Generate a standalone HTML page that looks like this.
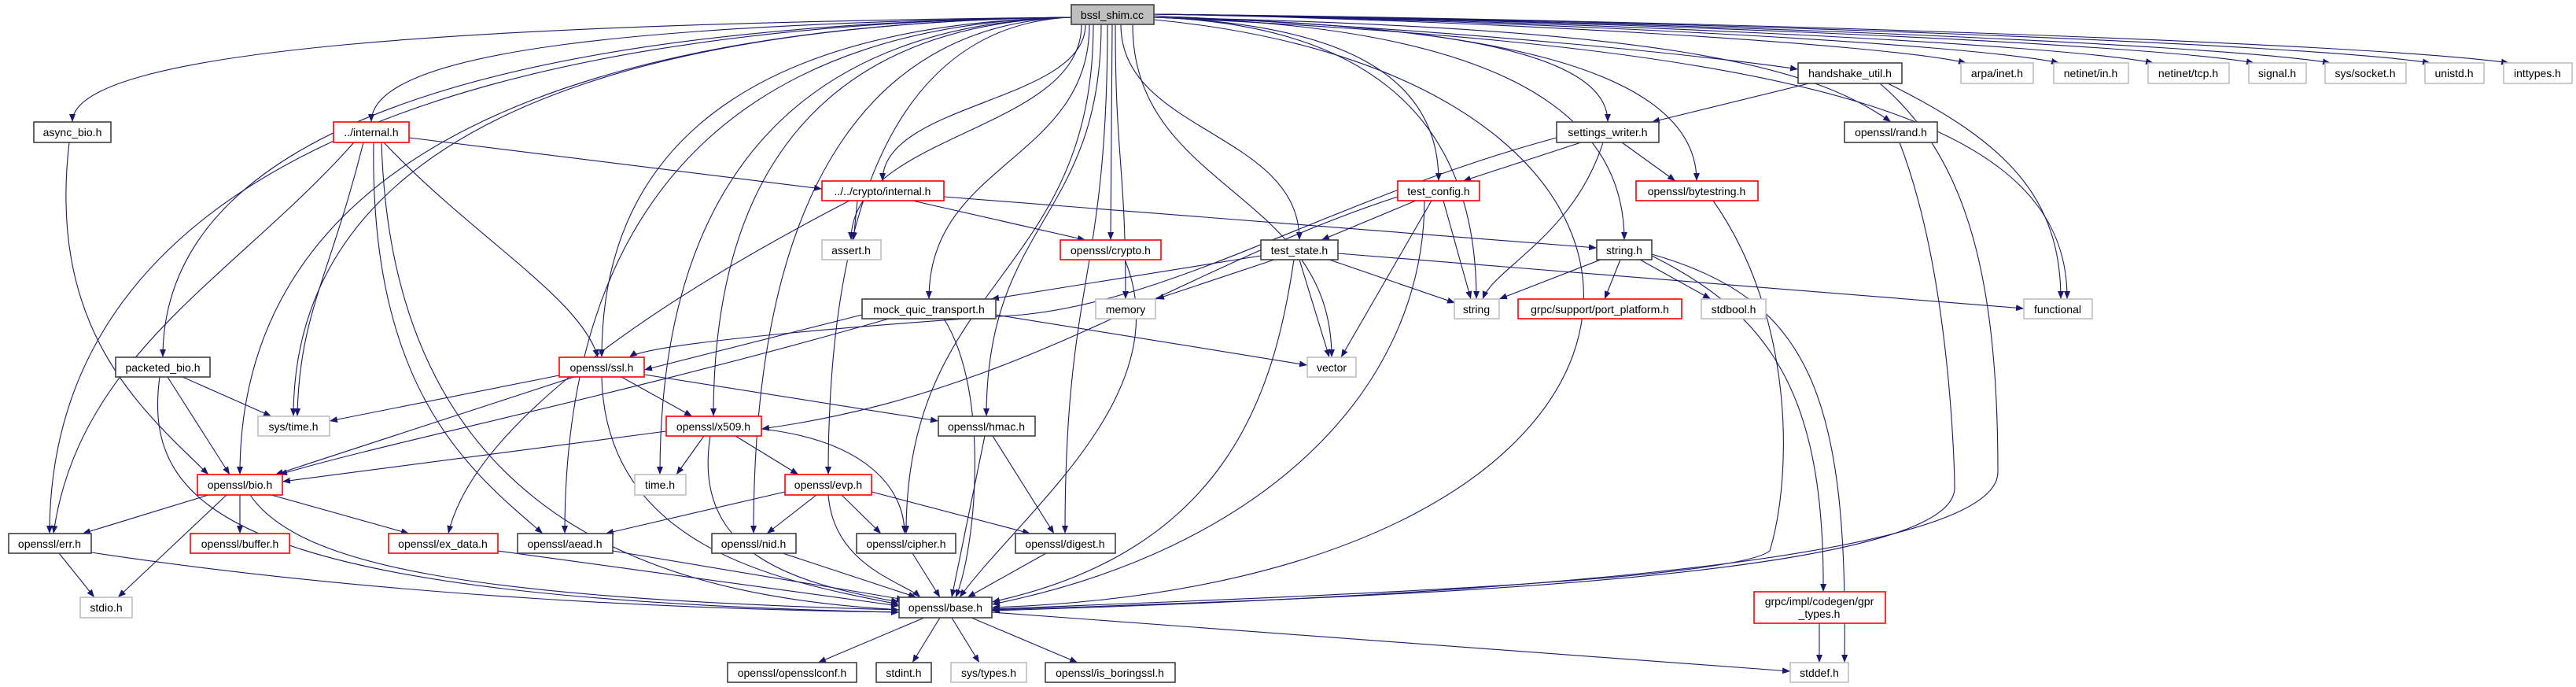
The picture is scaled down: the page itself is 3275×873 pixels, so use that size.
<!DOCTYPE html>
<html><head><meta charset="utf-8"><style>
html,body{margin:0;padding:0;background:#fff;}
svg{display:block;}
text{font-family:"Liberation Sans",Arial,sans-serif;font-size:14px;fill:#000;text-anchor:middle;}
.e{fill:none;stroke:#191970;stroke-width:1.1;marker-end:url(#a);}
.b{fill:#fff;stroke:#404040;stroke-width:1.6;}
.r{fill:#fff;stroke:#ff0000;stroke-width:1.6;}
.g{fill:#fff;stroke:#bfbfbf;stroke-width:1.6;}
</style></head><body>
<svg width="3275" height="873" viewBox="0 0 3275 873" xmlns="http://www.w3.org/2000/svg">
<defs><marker id="a" markerUnits="userSpaceOnUse" markerWidth="11" markerHeight="8" refX="10" refY="4" orient="auto"><path d="M0,0 L10,4 L0,8 z" fill="#191970"/></marker></defs>
<g>
<path class="e" d="M1362,22 C600,30 92,62 92,155"/>
<path class="e" d="M1362,22 C828,30 472,62 472,155"/>
<path class="e" d="M1362,22 C583,30 63,219 63,678"/>
<path class="e" d="M1362,22 C669,30 207,152 207,454"/>
<path class="e" d="M1362,22 C769,30 373,174 373,529"/>
<path class="e" d="M1362,22 C728,30 305,196 305,603"/>
<path class="e" d="M1362,22 C1004,30 765,152 765,454"/>
<path class="e" d="M1362,22 C976,30 718,219 718,678"/>
<path class="e" d="M1362,22 C1048,30 839,196 839,603"/>
<path class="e" d="M1362,22 C1089,30 907,174 907,529"/>
<path class="e" d="M1362,22 C1120,30 958,219 958,678"/>
<path class="e" d="M1362,22 C1177,30 1053,196 1053,603"/>
<path class="e" d="M1380,31 C1380,130 1122,130 1122,230"/>
<path class="e" d="M1375,31 C1375,168 1082,168 1082,305"/>
<path class="e" d="M1385,31 C1385,205 1181,205 1181,380"/>
<path class="e" d="M1390,31 C1390,354 1152,354 1152,678"/>
<path class="e" d="M1400,31 C1400,280 1254,280 1254,529"/>
<path class="e" d="M1414,31 L1412,305"/>
<path class="e" d="M1418,31 C1418,205 1431,205 1431,380"/>
<path class="e" d="M1408,31 C1408,354 1354,354 1354,678"/>
<path class="e" d="M1425,31 C1425,168 1652,168 1652,305"/>
<path class="e" d="M1440,31 C1440,242 1693,242 1693,454"/>
<path class="e" d="M1467,22 C1684,30 1829,84 1829,230"/>
<path class="e" d="M1467,22 C1813,30 2044,62 2044,155"/>
<path class="e" d="M1467,22 C1713,30 1877,129 1877,380"/>
<path class="e" d="M1467,22 C1826,30 2065,107 2065,305"/>
<path class="e" d="M1467,22 C1881,30 2157,84 2157,230"/>
<path class="e" d="M1467,20 C1900,40 2200,75 2286,88"/>
<path class="e" d="M1467,18 C1877,25 2390,55 2500,80"/>
<path class="e" d="M1467,18 C1927,25 2503,55 2618,80"/>
<path class="e" d="M1467,18 C1975,25 2611,55 2738,80"/>
<path class="e" d="M1467,18 C2026,25 2726,55 2866,80"/>
<path class="e" d="M1467,18 C2065,25 2813,55 2963,80"/>
<path class="e" d="M1467,18 C2116,25 2928,55 3090,80"/>
<path class="e" d="M1467,18 C2156,25 3018,55 3190,80"/>
<path class="e" d="M1467,22 C2100,35 2300,80 2404,155"/>
<path class="e" d="M1467,22 C2300,60 2630,150 2628,380"/>
<path class="e" d="M1467,25 C2250,100 2200,740 1261,772"/>
<path class="e" d="M88,181 C60,420 180,520 265,603"/>
<path class="e" d="M520,175 L1045,240"/>
<path class="e" d="M450,181 C300,350 100,450 68,678"/>
<path class="e" d="M462,181 C420,350 380,400 378,529"/>
<path class="e" d="M488,181 C600,300 740,380 760,454"/>
<path class="e" d="M475,181 C470,500 600,600 690,678"/>
<path class="e" d="M485,181 C500,700 900,760 1143,775"/>
<path class="e" d="M1090,255 L1085,305"/>
<path class="e" d="M1160,255 L1380,305"/>
<path class="e" d="M1200,250 L2030,315"/>
<path class="e" d="M1080,255 C800,400 600,550 570,678"/>
<path class="e" d="M1430,330 C1500,500 1300,650 1220,759"/>
<path class="e" d="M2010,181 L1860,230"/>
<path class="e" d="M2038,181 C2000,300 1900,340 1885,380"/>
<path class="e" d="M2062,181 L2130,230"/>
<path class="e" d="M1979,175 C1700,250 1500,380 1300,400 C1000,420 820,440 800,454"/>
<path class="e" d="M2300,106 L2100,155"/>
<path class="e" d="M2400,106 C2550,180 2620,250 2620,380"/>
<path class="e" d="M2390,106 C2500,200 2540,350 2540,600 C2540,720 1800,760 1261,776"/>
<path class="e" d="M2415,181 C2480,350 2485,600 2485,620 C2485,740 1700,760 1261,775"/>
<path class="e" d="M2178,255 C2280,400 2280,600 2250,700 C2200,740 1600,760 1261,774"/>
<path class="e" d="M1800,255 L1680,305"/>
<path class="e" d="M1835,255 L1870,380"/>
<path class="e" d="M1820,255 L1705,454"/>
<path class="e" d="M1811,255 C1810,500 1600,700 1261,768"/>
<path class="e" d="M1777,250 C1500,340 1300,500 968,545"/>
<path class="e" d="M1603,325 L1260,380"/>
<path class="e" d="M1620,330 L1470,380"/>
<path class="e" d="M1690,330 L1850,385"/>
<path class="e" d="M1652,330 L1690,454"/>
<path class="e" d="M1701,322 L2573,392"/>
<path class="e" d="M1645,330 C1620,500 1560,700 1261,765"/>
<path class="e" d="M2035,330 L1906,380"/>
<path class="e" d="M2060,330 L2040,380"/>
<path class="e" d="M2085,330 L2175,380"/>
<path class="e" d="M2100,325 C2250,400 2320,500 2318,752"/>
<path class="e" d="M2100,323 C2300,380 2350,500 2345,842"/>
<path class="e" d="M1130,405 C800,500 500,560 355,603"/>
<path class="e" d="M1266,400 L1662,464"/>
<path class="e" d="M1200,405 C1260,500 1240,700 1215,759"/>
<path class="e" d="M1096,400 L819,470"/>
<path class="e" d="M232,479 L345,529"/>
<path class="e" d="M213,479 L292,603"/>
<path class="e" d="M203,479 C180,650 300,760 1143,778"/>
<path class="e" d="M711,477 L419,535"/>
<path class="e" d="M730,479 L350,603"/>
<path class="e" d="M790,479 L880,529"/>
<path class="e" d="M819,476 L1193,535"/>
<path class="e" d="M765,479 C770,700 1000,740 1143,768"/>
<path class="e" d="M847,548 L359,612"/>
<path class="e" d="M895,554 L860,603"/>
<path class="e" d="M935,554 L1015,603"/>
<path class="e" d="M968,545 C1100,560 1150,620 1150,678"/>
<path class="e" d="M903,554 C880,700 1000,740 1143,765"/>
<path class="e" d="M1262,554 L1340,678"/>
<path class="e" d="M1252,554 L1210,759"/>
<path class="e" d="M265,629 L105,678"/>
<path class="e" d="M305,629 L305,678"/>
<path class="e" d="M345,629 L520,678"/>
<path class="e" d="M288,629 L150,759"/>
<path class="e" d="M318,629 C380,720 600,760 1143,775"/>
<path class="e" d="M998,625 L770,678"/>
<path class="e" d="M1038,629 L975,678"/>
<path class="e" d="M1070,629 L1120,678"/>
<path class="e" d="M1108,625 L1310,678"/>
<path class="e" d="M1053,629 C1060,720 1150,740 1170,759"/>
<path class="e" d="M75,703 L120,759"/>
<path class="e" d="M116,702 C500,760 900,775 1143,778"/>
<path class="e" d="M633,700 L1143,770"/>
<path class="e" d="M779,700 L1150,762"/>
<path class="e" d="M995,703 L1165,759"/>
<path class="e" d="M1160,703 L1195,759"/>
<path class="e" d="M1330,703 L1230,759"/>
<path class="e" d="M1175,785 L1040,842"/>
<path class="e" d="M1195,785 L1160,842"/>
<path class="e" d="M1210,785 L1245,842"/>
<path class="e" d="M1235,785 L1370,842"/>
<path class="e" d="M1261,778 L2276,853"/>
<path class="e" d="M2313,792 L2313,842"/>
</g>
<g>
<rect x="1362" y="6" width="105" height="25" fill="#bfbfbf" stroke="#404040" stroke-width="1.6"/><text x="1414" y="24">bssl_shim.cc</text>
<rect class="b" x="43" y="155" width="98" height="26"/><text x="92" y="173">async_bio.h</text>
<rect class="r" x="424" y="155" width="96" height="26"/><text x="472" y="173">../internal.h</text>
<rect class="r" x="1045" y="230" width="155" height="25"/><text x="1122" y="248">../../crypto/internal.h</text>
<rect class="g" x="1045" y="305" width="75" height="25"/><text x="1082" y="323">assert.h</text>
<rect class="b" x="1979" y="155" width="130" height="26"/><text x="2044" y="173">settings_writer.h</text>
<rect class="r" x="1777" y="230" width="104" height="25"/><text x="1829" y="248">test_config.h</text>
<rect class="r" x="2080" y="230" width="155" height="25"/><text x="2157" y="248">openssl/bytestring.h</text>
<rect class="r" x="1348" y="305" width="128" height="25"/><text x="1412" y="323">openssl/crypto.h</text>
<rect class="b" x="1603" y="305" width="98" height="25"/><text x="1652" y="323">test_state.h</text>
<rect class="b" x="2030" y="305" width="70" height="25"/><text x="2065" y="323">string.h</text>
<rect class="b" x="1096" y="380" width="170" height="25"/><text x="1181" y="398">mock_quic_transport.h</text>
<rect class="g" x="1393" y="380" width="76" height="25"/><text x="1431" y="398">memory</text>
<rect class="g" x="1849" y="380" width="57" height="25"/><text x="1877" y="398">string</text>
<rect class="r" x="1930" y="380" width="208" height="25"/><text x="2034" y="398">grpc/support/port_platform.h</text>
<rect class="g" x="2163" y="380" width="82" height="25"/><text x="2204" y="398">stdbool.h</text>
<rect class="b" x="2286" y="80" width="132" height="26"/><text x="2352" y="98">handshake_util.h</text>
<rect class="g" x="2493" y="80" width="92" height="26"/><text x="2539" y="98">arpa/inet.h</text>
<rect class="g" x="2611" y="80" width="95" height="26"/><text x="2658" y="98">netinet/in.h</text>
<rect class="g" x="2731" y="80" width="103" height="26"/><text x="2782" y="98">netinet/tcp.h</text>
<rect class="g" x="2859" y="80" width="73" height="26"/><text x="2895" y="98">signal.h</text>
<rect class="g" x="2956" y="80" width="103" height="26"/><text x="3007" y="98">sys/socket.h</text>
<rect class="g" x="3083" y="80" width="75" height="26"/><text x="3120" y="98">unistd.h</text>
<rect class="g" x="3183" y="80" width="87" height="26"/><text x="3226" y="98">inttypes.h</text>
<rect class="b" x="2345" y="155" width="118" height="26"/><text x="2404" y="173">openssl/rand.h</text>
<rect class="g" x="2573" y="380" width="87" height="25"/><text x="2616" y="398">functional</text>
<rect class="b" x="147" y="454" width="120" height="25"/><text x="207" y="472">packeted_bio.h</text>
<rect class="r" x="711" y="454" width="108" height="25"/><text x="765" y="472">openssl/ssl.h</text>
<rect class="g" x="1662" y="454" width="62" height="25"/><text x="1693" y="472">vector</text>
<rect class="g" x="328" y="529" width="91" height="25"/><text x="373" y="547">sys/time.h</text>
<rect class="r" x="847" y="529" width="121" height="25"/><text x="907" y="547">openssl/x509.h</text>
<rect class="b" x="1193" y="529" width="123" height="25"/><text x="1254" y="547">openssl/hmac.h</text>
<rect class="r" x="251" y="603" width="108" height="26"/><text x="305" y="621">openssl/bio.h</text>
<rect class="g" x="807" y="603" width="65" height="26"/><text x="839" y="621">time.h</text>
<rect class="r" x="998" y="603" width="110" height="26"/><text x="1053" y="621">openssl/evp.h</text>
<rect class="b" x="11" y="678" width="105" height="25"/><text x="63" y="696">openssl/err.h</text>
<rect class="r" x="242" y="678" width="126" height="25"/><text x="305" y="696">openssl/buffer.h</text>
<rect class="r" x="494" y="678" width="139" height="25"/><text x="563" y="696">openssl/ex_data.h</text>
<rect class="b" x="658" y="678" width="121" height="25"/><text x="718" y="696">openssl/aead.h</text>
<rect class="b" x="905" y="678" width="107" height="25"/><text x="958" y="696">openssl/nid.h</text>
<rect class="b" x="1089" y="678" width="126" height="25"/><text x="1152" y="696">openssl/cipher.h</text>
<rect class="b" x="1291" y="678" width="127" height="25"/><text x="1354" y="696">openssl/digest.h</text>
<rect class="g" x="102" y="759" width="66" height="26"/><text x="135" y="777">stdio.h</text>
<rect class="b" x="1143" y="759" width="118" height="26"/><text x="1202" y="777">openssl/base.h</text>
<rect class="r" x="2230" y="752" width="167" height="40"/><text x="2313" y="769">grpc/impl/codegen/gpr</text><text x="2313" y="785">_types.h</text>
<rect class="b" x="925" y="842" width="164" height="25"/><text x="1007" y="860">openssl/opensslconf.h</text>
<rect class="b" x="1114" y="842" width="70" height="25"/><text x="1149" y="860">stdint.h</text>
<rect class="g" x="1209" y="842" width="96" height="25"/><text x="1257" y="860">sys/types.h</text>
<rect class="b" x="1329" y="842" width="165" height="25"/><text x="1411" y="860">openssl/is_boringssl.h</text>
<rect class="g" x="2276" y="842" width="74" height="25"/><text x="2313" y="860">stddef.h</text>
</g>
</svg>
</body></html>
